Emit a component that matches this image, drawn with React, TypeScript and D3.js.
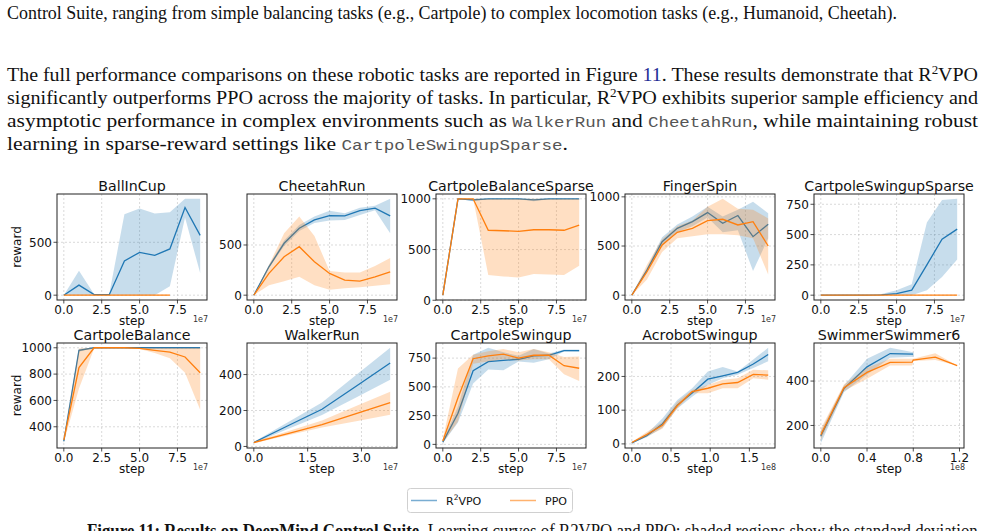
import * as d3 from "d3";

const W = 985;
const H = 531;
const BLUE = "#1f77b4";
const ORANGE = "#ff7f0e";

type Band = [number, number][];
type Series = { steps: number[]; mean: number[]; band: Band };

// steps are in units of the axis offset (1e7 or 1e8)
const tenSteps = [0, 1, 2, 3, 4, 5, 6, 7, 8, 9];
const zeros10 = [0, 0, 0, 0, 0, 0, 0, 0, 0, 0];
const zeroBand10: Band = zeros10.map(() => [0, 0]);

// BallInCup
const ballR2 = [0, 95, 5, 5, 323, 405, 377, 437, 829, 565];
const ballR2Band: Band = [[0, 0], [0, 230], [0, 8], [0, 12], [0, 766], [0, 820], [0, 772], [85, 785], [734, 911], [209, 911]];
const ballPpoSteps = [0, 1, 2, 3, 4, 5, 6, 7];
const ballPpo = [0, 0, 0, 0, 0, 0, 0, 0];
const ballPpoBand: Band = ballPpo.map(() => [0, 0]);

// CheetahRun
const cheetahR2 = [0, 283, 517, 667, 750, 793, 790, 843, 867, 790];
const cheetahR2Band: Band = [[0, 0], [270, 300], [490, 545], [640, 700], [720, 785], [745, 840], [750, 815], [800, 870], [845, 890], [617, 960]];
const cheetahPpo = [0, 217, 383, 483, 333, 217, 150, 140, 183, 233];
const cheetahPpoBand: Band = [[0, 0], [100, 300], [140, 617], [183, 783], [100, 590], [55, 240], [70, 225], [80, 225], [95, 290], [110, 370]];

// CartpoleBalanceSparse
const cbsR2 = [50, 1000, 990, 1000, 1000, 1000, 990, 1000, 1000, 1000];
const cbsR2Band: Band = [[50, 50], [1000, 1000], [975, 1000], [995, 1000], [995, 1000], [995, 1000], [975, 1000], [995, 1000], [995, 1000], [995, 1000]];
const cbsPpo = [50, 1000, 1000, 690, 685, 680, 695, 695, 690, 740];
const cbsPpoBand: Band = [[50, 50], [1000, 1000], [1000, 1000], [250, 1000], [235, 1000], [225, 1000], [260, 1000], [255, 1000], [250, 1000], [340, 1000]];

// FingerSpin
const fsR2 = [0, 255, 544, 680, 748, 840, 731, 810, 595, 721];
const fsR2Band: Band = [[0, 0], [230, 280], [500, 590], [640, 720], [700, 800], [790, 900], [640, 800], [660, 870], [245, 950], [578, 833]];
const fsPpo = [0, 238, 510, 640, 680, 759, 772, 714, 748, 500];
const fsPpoBand: Band = [[0, 0], [160, 310], [440, 570], [580, 700], [600, 760], [620, 900], [620, 980], [610, 880], [580, 870], [210, 780]];

// CartpoleSwingupSparse
const cssR2 = [0, 0, 0, 0, 3, 12, 42, 250, 462, 545];
const cssR2Band: Band = [[0, 0], [0, 0], [0, 0], [0, 0], [0, 10], [0, 40], [0, 90], [40, 600], [150, 785], [295, 795]];

// CartpoleBalance
const cbR2 = [290, 980, 1000, 1000, 1000, 1000, 1000, 1000, 1000, 1000];
const cbR2Band: Band = [[275, 300], [970, 990], [1000, 1000], [1000, 1000], [1000, 1000], [1000, 1000], [1000, 1000], [1000, 1000], [1000, 1000], [1000, 1000]];
const cbPpo = [300, 850, 1000, 1000, 1000, 995, 980, 967, 930, 810];
const cbPpoBand: Band = [[280, 310], [690, 995], [995, 1000], [1000, 1000], [1000, 1000], [990, 1000], [960, 1000], [920, 1000], [810, 1000], [530, 1000]];

// WalkerRun
const walkerSteps = [0, 0.95, 1.9, 2.85, 3.8];
const walkerR2 = [22, 115, 207, 335, 464];
const walkerR2Band: Band = [[18, 26], [97, 135], [175, 245], [273, 397], [371, 549]];
const walkerPpo = [22, 72, 122, 183, 244];
const walkerPpoBand: Band = [[18, 26], [62, 85], [105, 145], [140, 225], [176, 304]];

// CartpoleSwingup
const csR2 = [20, 270, 640, 720, 730, 740, 770, 775, 815, 815];
const csR2Band: Band = [[10, 30], [190, 330], [530, 780], [650, 840], [645, 800], [720, 770], [710, 830], [740, 790], [808, 825], [805, 825]];
const csPpo = [30, 406, 745, 770, 785, 750, 775, 775, 684, 662];
const csPpoBand: Band = [[15, 45], [200, 660], [700, 780], [720, 810], [740, 830], [730, 800], [740, 830], [740, 800], [610, 760], [550, 765]];

// AcrobotSwingup
const acroSteps = [0, 0.19, 0.39, 0.58, 0.77, 0.97, 1.16, 1.35, 1.55, 1.74];
const acroR2 = [3, 24, 59, 115, 151, 192, 202, 212, 237, 265];
const acroR2Band: Band = [[2, 5], [20, 30], [48, 75], [105, 130], [140, 165], [175, 215], [195, 228], [205, 215], [225, 250], [245, 285]];
const acroPpo = [4, 28, 55, 113, 155, 165, 178, 182, 206, 204];
const acroPpoBand: Band = [[3, 6], [22, 35], [45, 65], [105, 125], [150, 160], [150, 175], [165, 190], [165, 195], [195, 220], [190, 218]];

// SwimmerSwimmer6
const swimR2Steps = [0, 0.2, 0.4, 0.6, 0.8];
const swimR2 = [153, 366, 464, 524, 521];
const swimR2Band: Band = [[120, 175], [350, 380], [430, 500], [505, 550], [510, 530]];
const swimPpoSteps = [0, 0.2, 0.4, 0.6, 0.79, 0.8, 0.99, 1.18];
const swimPpo = [158, 370, 439, 484, 485, 495, 508, 470];
const swimPpoBand: Band = [[135, 185], [355, 385], [410, 460], [470, 500], [470, 500], [490, 500], [495, 525], [470, 470]];

const xTicks1e7 = [0, 2.5, 5, 7.5];
const xTicksWalker = [0, 1.5, 3];
const xTicksAcro = [0, 0.5, 1, 1.5];
const xTicksSwim = [0, 0.4, 0.8, 1.2];

type Panel = {
  title: string;
  r2: Series;
  ppo: Series;
  xTicks: number[];
  yTicks: number[];
  offset: string;
};

const panels: Panel[] = [
  { title: "BallInCup", r2: { steps: tenSteps, mean: ballR2, band: ballR2Band }, ppo: { steps: ballPpoSteps, mean: ballPpo, band: ballPpoBand }, xTicks: xTicks1e7, yTicks: [0, 500], offset: "1e7" },
  { title: "CheetahRun", r2: { steps: tenSteps, mean: cheetahR2, band: cheetahR2Band }, ppo: { steps: tenSteps, mean: cheetahPpo, band: cheetahPpoBand }, xTicks: xTicks1e7, yTicks: [0, 500], offset: "1e7" },
  { title: "CartpoleBalanceSparse", r2: { steps: tenSteps, mean: cbsR2, band: cbsR2Band }, ppo: { steps: tenSteps, mean: cbsPpo, band: cbsPpoBand }, xTicks: xTicks1e7, yTicks: [0, 500, 1000], offset: "1e7" },
  { title: "FingerSpin", r2: { steps: tenSteps, mean: fsR2, band: fsR2Band }, ppo: { steps: tenSteps, mean: fsPpo, band: fsPpoBand }, xTicks: xTicks1e7, yTicks: [0, 500, 1000], offset: "1e7" },
  { title: "CartpoleSwingupSparse", r2: { steps: tenSteps, mean: cssR2, band: cssR2Band }, ppo: { steps: tenSteps, mean: zeros10, band: zeroBand10 }, xTicks: xTicks1e7, yTicks: [0, 250, 500, 750], offset: "1e7" },
  { title: "CartpoleBalance", r2: { steps: tenSteps, mean: cbR2, band: cbR2Band }, ppo: { steps: tenSteps, mean: cbPpo, band: cbPpoBand }, xTicks: xTicks1e7, yTicks: [400, 600, 800, 1000], offset: "1e7" },
  { title: "WalkerRun", r2: { steps: walkerSteps, mean: walkerR2, band: walkerR2Band }, ppo: { steps: walkerSteps, mean: walkerPpo, band: walkerPpoBand }, xTicks: xTicksWalker, yTicks: [0, 200, 400], offset: "1e7" },
  { title: "CartpoleSwingup", r2: { steps: tenSteps, mean: csR2, band: csR2Band }, ppo: { steps: tenSteps, mean: csPpo, band: csPpoBand }, xTicks: xTicks1e7, yTicks: [0, 250, 500, 750], offset: "1e7" },
  { title: "AcrobotSwingup", r2: { steps: acroSteps, mean: acroR2, band: acroR2Band }, ppo: { steps: acroSteps, mean: acroPpo, band: acroPpoBand }, xTicks: xTicksAcro, yTicks: [0, 100, 200], offset: "1e8" },
  { title: "SwimmerSwimmer6", r2: { steps: swimR2Steps, mean: swimR2, band: swimR2Band }, ppo: { steps: swimPpoSteps, mean: swimPpo, band: swimPpoBand }, xTicks: xTicksSwim, yTicks: [200, 400], offset: "1e8" },
];

// grid layout of the axes boxes
const colLeft = [57, 247, 436, 625, 814];
const rowTop = [194, 343];
const rowHeight = [106, 105];
const plotW = 150;
const fmtX = d3.format(".1f");

function PanelView({ p, index }: { p: Panel; index: number }) {
  const col = index % 5;
  const row = Math.floor(index / 5);
  const left = colLeft[col];
  const top = rowTop[row];
  const h = rowHeight[row];
  const bottom = top + h;

  const [xLo, xHi] = d3.extent([...p.r2.steps, ...p.ppo.steps]) as [number, number];
  const xPad = (xHi - xLo) * 0.05;
  const x = d3.scaleLinear().domain([xLo - xPad, xHi + xPad]).range([left, left + plotW]);

  const allY = [p.r2, p.ppo].flatMap((s) => [...s.mean, ...s.band.flat()]);
  const [yLo, yHi] = d3.extent(allY) as [number, number];
  const yPad = (yHi - yLo) * 0.05;
  const y = d3.scaleLinear().domain([yLo - yPad, yHi + yPad]).range([bottom, top]);

  const series = [
    { s: p.r2, c: BLUE },
    { s: p.ppo, c: ORANGE },
  ];

  return (
    <g>
      {p.xTicks.map((t) => (
        <line key={`gx${t}`} x1={x(t)} x2={x(t)} y1={top} y2={bottom} stroke="#b0b0b0" strokeOpacity={0.6} strokeWidth={0.8} strokeDasharray="2,2" />
      ))}
      {p.yTicks.map((t) => (
        <line key={`gy${t}`} x1={left} x2={left + plotW} y1={y(t)} y2={y(t)} stroke="#b0b0b0" strokeOpacity={0.6} strokeWidth={0.8} strokeDasharray="2,2" />
      ))}

      {series.map(({ s, c }) => {
        const idx = d3.range(s.steps.length);
        const area = d3
          .area<number>()
          .x((i) => x(s.steps[i]))
          .y0((i) => y(s.band[i][0]))
          .y1((i) => y(s.band[i][1]));
        const line = d3
          .line<number>()
          .x((i) => x(s.steps[i]))
          .y((i) => y(s.mean[i]));
        return (
          <g key={c}>
            <path d={area(idx) ?? ""} fill={c} fillOpacity={0.25} />
            <path d={line(idx) ?? ""} fill="none" stroke={c} strokeWidth={1.3} />
          </g>
        );
      })}

      <rect x={left} y={top} width={plotW} height={h} fill="none" stroke="#222" strokeWidth={1} />

      {p.xTicks.map((t) => (
        <g key={`tx${t}`}>
          <line x1={x(t)} x2={x(t)} y1={bottom} y2={bottom + 3.5} stroke="#222" strokeWidth={0.8} />
          <text x={x(t)} y={bottom + 14} fontSize={12} textAnchor="middle" fill="#111">
            {fmtX(t)}
          </text>
        </g>
      ))}
      {p.yTicks.map((t) => (
        <g key={`ty${t}`}>
          <line x1={left - 3.5} x2={left} y1={y(t)} y2={y(t)} stroke="#222" strokeWidth={0.8} />
          <text x={left - 5} y={y(t)} dy="0.36em" fontSize={12} textAnchor="end" fill="#111">
            {t}
          </text>
        </g>
      ))}

      <text x={left + plotW / 2} y={top - 3.5} fontSize={14.2} textAnchor="middle" fill="#111">
        {p.title}
      </text>
      <text x={left + plotW / 2} y={bottom + 25} fontSize={12} textAnchor="middle" fill="#111">
        step
      </text>
      <text x={left + plotW + 1} y={bottom + 22} fontSize={8} textAnchor="end" fill="#333">
        {p.offset}
      </text>
      {col === 0 && (
        <text transform={`translate(21,${top + h / 2}) rotate(-90)`} fontSize={12} textAnchor="middle" fill="#111">
          reward
        </text>
      )}
    </g>
  );
}

type Seg = { t: string; kind?: "sup" | "mono" | "ref" };

const textLines: { segs: Seg[]; y: number; len: number }[] = [
  { segs: [{ t: "Control Suite, ranging from simple balancing tasks (e.g., Cartpole) to complex locomotion tasks (e.g., Humanoid, Cheetah)." }], y: 19, len: 890 },
  {
    segs: [
      { t: "The full performance comparisons on these robotic tasks are reported in Figure " },
      { t: "11", kind: "ref" },
      { t: ". These results demonstrate that R" },
      { t: "2", kind: "sup" },
      { t: "VPO" },
    ],
    y: 81,
    len: 971,
  },
  {
    segs: [
      { t: "significantly outperforms PPO across the majority of tasks. In particular, R" },
      { t: "2", kind: "sup" },
      { t: "VPO exhibits superior sample efficiency and" },
    ],
    y: 104,
    len: 971,
  },
  {
    segs: [
      { t: "asymptotic performance in complex environments such as " },
      { t: "WalkerRun", kind: "mono" },
      { t: " and " },
      { t: "CheetahRun", kind: "mono" },
      { t: ", while maintaining robust" },
    ],
    y: 127,
    len: 971,
  },
  {
    segs: [
      { t: "learning in sparse-reward settings like " },
      { t: "CartpoleSwingupSparse", kind: "mono" },
      { t: "." },
    ],
    y: 150,
    len: 561,
  },
];

function Paragraph() {
  return (
    <g fontFamily="'Liberation Serif', 'Times New Roman', serif" fontSize={18.5} fill="#111">
      {textLines.map((ln, i) => (
        <text key={i} x={7} y={ln.y} textLength={ln.len} lengthAdjust="spacingAndGlyphs">
          {ln.segs.map((s, j) => {
            if (s.kind === "sup")
              return (
                <tspan key={j} fontSize={12} baselineShift="7">
                  {s.t}
                </tspan>
              );
            if (s.kind === "mono")
              return (
                <tspan key={j} fontFamily="'Liberation Mono', monospace" fontSize={15} fill="#555">
                  {s.t}
                </tspan>
              );
            if (s.kind === "ref")
              return (
                <tspan key={j} fill="#1f2f96">
                  {s.t}
                </tspan>
              );
            return <tspan key={j}>{s.t}</tspan>;
          })}
        </text>
      ))}
    </g>
  );
}

function Legend() {
  return (
    <g fontFamily="'DejaVu Sans', sans-serif" fontSize={11} fill="#111">
      <rect x={407.5} y={488.5} width={165} height={24} rx={3} fill="#fff" stroke="#d0d0d0" />
      <line x1={411} x2={437} y1={500.5} y2={500.5} stroke={BLUE} strokeOpacity={0.6} strokeWidth={1.5} />
      <text x={446} y={504.5}>
        R<tspan fontSize={7.5} baselineShift="5">2</tspan>VPO
      </text>
      <line x1={510} x2={536} y1={500.5} y2={500.5} stroke={ORANGE} strokeOpacity={0.6} strokeWidth={1.5} />
      <text x={545} y={504.5}>PPO</text>
    </g>
  );
}

export default function App() {
  return (
    <svg
      width={W}
      height={H}
      viewBox={`0 0 ${W} ${H}`}
      style={{ position: "absolute", left: 0, top: 0, background: "#fff" }}
      fontFamily="'DejaVu Sans', sans-serif"
    >
      <rect width={W} height={H} fill="#fff" />
      <Paragraph />
      {panels.map((p, i) => (
        <PanelView key={p.title} p={p} index={i} />
      ))}
      <Legend />
      <text x={87} y={537} fontFamily="'Liberation Serif', serif" fontSize={18.5} fill="#111" textLength={895} lengthAdjust="spacingAndGlyphs">
        <tspan fontWeight="bold">Figure 11: Results on DeepMind Control Suite.</tspan> Learning curves of R2VPO and PPO; shaded regions show the standard deviation.
      </text>
    </svg>
  );
}
